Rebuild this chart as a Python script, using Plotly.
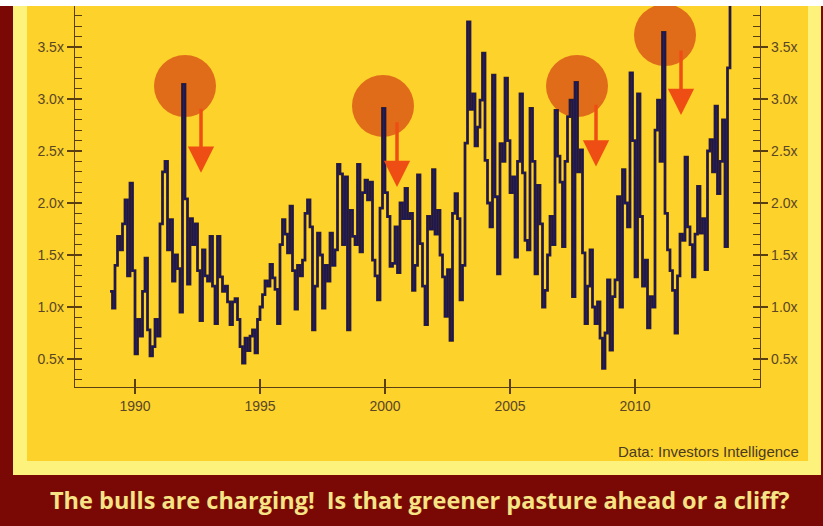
import plotly.graph_objects as go

# ---------------- data (bull/bear ratio, 0.1-year steps) -------------
start_year = 1989.0
year_step = 0.1

ratio_1989_1993 = [
    1.15, 0.99, 1.40, 1.68, 1.55, 1.80, 2.03, 1.30, 2.19, 1.35,
    0.55, 0.88, 0.72, 1.15, 1.47, 0.78, 0.53, 0.62, 0.88, 0.72,
    1.80, 2.30, 2.40, 1.55, 1.84, 1.25, 1.50, 1.37, 0.95, 3.14,
    2.04, 1.22, 1.85, 1.60, 1.80, 1.35, 0.87, 1.55, 1.30, 1.25,
    1.68, 1.20, 0.84, 1.68, 1.29, 1.15, 1.20, 1.05, 0.83, 1.05,
]
ratio_1994_1998 = [
    1.08, 0.88, 0.62, 0.46, 0.70, 0.58, 0.72, 0.78, 0.56, 0.88,
    1.00, 1.12, 1.25, 1.20, 1.41, 1.28, 1.17, 0.84, 1.60, 1.84,
    1.70, 1.52, 1.97, 1.35, 0.98, 1.40, 1.30, 1.45, 1.90, 2.03,
    1.77, 0.78, 1.20, 1.71, 1.50, 0.99, 1.40, 1.25, 1.71, 1.40,
    1.55, 2.37, 2.28, 1.60, 2.25, 0.78, 1.93, 1.68, 1.60, 2.37,
]
ratio_1999_2003 = [
    1.53, 2.10, 2.22, 2.03, 2.20, 1.45, 1.30, 1.07, 1.95, 2.91,
    2.10, 1.87, 1.39, 1.42, 1.77, 1.33, 2.00, 1.85, 2.14, 1.85,
    1.90, 1.16, 1.40, 2.27, 1.61, 1.20, 0.83, 1.87, 1.75, 2.32,
    1.70, 1.93, 1.50, 1.29, 0.91, 1.36, 0.68, 1.90, 2.09, 1.85,
    1.07, 1.40, 2.575, 3.74, 2.90, 3.05, 2.55, 2.73, 2.99, 3.44,
]
ratio_2004_2008 = [
    2.41, 2.00, 1.77, 3.23, 2.06, 1.32, 2.57, 2.40, 3.20, 2.60,
    2.10, 2.25, 1.48, 2.40, 3.05, 2.29, 1.64, 1.55, 2.91, 2.40,
    1.32, 2.17, 1.80, 1.00, 1.16, 1.50, 1.87, 1.60, 2.89, 2.45,
    2.20, 1.58, 2.40, 2.83, 2.99, 1.10, 3.16, 2.30, 2.51, 1.52,
    0.84, 1.20, 1.55, 1.00, 0.84, 1.05, 0.70, 0.41, 0.75, 1.26,
]
ratio_2009_2013 = [
    0.585, 1.10, 1.26, 2.06, 1.00, 2.32, 2.00, 1.77, 3.25, 2.60,
    1.29, 3.05, 1.87, 1.20, 1.45, 0.80, 1.10, 1.00, 2.70, 2.99,
    2.40, 3.64, 1.90, 1.55, 1.35, 1.16, 0.75, 1.30, 1.70, 1.64,
    2.44, 1.77, 1.60, 1.29, 1.70, 2.16, 1.71, 1.85, 1.36, 2.50,
    2.61, 2.30, 2.93, 2.09, 2.40, 2.80, 1.58, 3.30, 4.30,
]

x_tick_vals = [1990, 1995, 2000, 2005, 2010]
x_tick_text = ["1990", "1995", "2000", "2005", "2010"]
y_tick_vals = [0.5, 1.0, 1.5, 2.0, 2.5, 3.0, 3.5]
y_tick_text = ["0.5x", "1.0x", "1.5x", "2.0x", "2.5x", "3.0x", "3.5x"]

# highlighted peaks (circles) and the arrows next to them
peak_years = [1992.0, 1999.92, 2007.68, 2011.2]
peak_levels = [3.125, 2.933, 3.125, 3.615]
arrow_years = [1992.64, 2000.48, 2008.44, 2011.84]
arrow_from = [2.92, 2.79, 2.96, 3.48]
arrow_to = [2.29, 2.154, 2.35, 2.846]

caption = "The bulls are charging!\u00a0 Is that greener pasture ahead or a cliff?"
source_note = "Data: Investors Intelligence"

# ---------------- build ----------------
ratio = ratio_1989_1993 + ratio_1994_1998 + ratio_1999_2003 + ratio_2004_2008 + ratio_2009_2013
years = [start_year + year_step * i for i in range(len(ratio))]

W, H = 823, 526
L, R, T, B = 75, 760, 6, 387  # plot area in pixels


def fx(px):
    return (px - L) / (R - L)


def fy(py):
    return (B - py) / (B - T)


AX = "#5a3f12"
TICKFONT = dict(family="Liberation Sans, Arial, sans-serif", size=14, color="#5a4626")
Y_RANGE = [0.231, 3.894]
X_RANGE = [1987.6, 2015.0]

fig = go.Figure()

fig.add_trace(go.Scatter(
    x=peak_years, y=peak_levels, mode="markers",
    marker=dict(size=62, color="#e06c1a", line=dict(width=0)),
    hoverinfo="skip", showlegend=False,
))
fig.add_trace(go.Scatter(
    x=years, y=ratio, mode="lines", line_shape="hv",
    line=dict(color="#3a2420", width=2.8),
    hoverinfo="skip", showlegend=False,
))
fig.add_trace(go.Scatter(
    x=years, y=ratio, mode="lines", line_shape="hv",
    line=dict(color="#151565", width=1.3),
    showlegend=False,
))
# helper (empty) traces so the overlay axes are drawn
fig.add_trace(go.Scatter(x=[None], y=[None], xaxis="x", yaxis="y2", showlegend=False, hoverinfo="skip"))
fig.add_trace(go.Scatter(x=[None], y=[None], xaxis="x2", yaxis="y3", showlegend=False, hoverinfo="skip"))
fig.add_trace(go.Scatter(x=[None], y=[None], xaxis="x", yaxis="y4", showlegend=False, hoverinfo="skip"))

for xa, yf, yt in zip(arrow_years, arrow_from, arrow_to):
    fig.add_annotation(
        x=xa, y=yt, ax=xa, ay=yf, xref="x", yref="y", axref="x", ayref="y",
        text="", showarrow=True, arrowhead=2, arrowsize=1.5, arrowwidth=3.5,
        arrowcolor="#ee4e14", standoff=0,
    )

fig.add_annotation(
    x=fx(420), y=fy(500), xref="paper", yref="paper", xanchor="center", yanchor="middle",
    text="<b>" + caption + "</b>", showarrow=False,
    font=dict(family="Open Sans, Lato, sans-serif", size=23.5, color="#f6e385", weight=800),
)
fig.add_annotation(
    x=fx(801), y=fy(451), xref="paper", yref="paper", xanchor="right", yanchor="middle",
    text=source_note, showarrow=False,
    font=dict(family="Liberation Sans, Arial, sans-serif", size=15, color="#4a3a22"),
)

shapes = [
    dict(type="rect", xref="paper", yref="paper", x0=fx(0), x1=fx(W), y0=fy(6), y1=fy(0),
         fillcolor="#ffffff", line=dict(width=0), layer="below"),
    dict(type="rect", xref="paper", yref="paper", x0=fx(13), x1=fx(821), y0=fy(475), y1=fy(6),
         fillcolor="#fdf27c", line=dict(width=0), layer="below"),
    dict(type="rect", xref="paper", yref="paper", x0=fx(27), x1=fx(808), y0=fy(461), y1=fy(6),
         fillcolor="#fdd22b", line=dict(width=0), layer="below"),
]

common_y = dict(range=Y_RANGE, showgrid=False, zeroline=False, fixedrange=True,
                tickvals=y_tick_vals, tickcolor=AX, tickwidth=1.2)

fig.update_layout(
    width=W, height=H,
    margin=dict(l=L, r=W - R, t=T, b=H - B, pad=0),
    paper_bgcolor="#7a0906",
    plot_bgcolor="rgba(0,0,0,0)",
    shapes=shapes,
    showlegend=False,
    xaxis=dict(range=X_RANGE, showgrid=False, zeroline=False, showline=True, linecolor=AX, linewidth=1.3,
               ticks="outside", ticklen=6, tickwidth=1.2, tickcolor=AX,
               tickvals=x_tick_vals, ticktext=x_tick_text, tickfont=TICKFONT, anchor="y"),
    xaxis2=dict(range=X_RANGE, overlaying="x", side="bottom", anchor="y3", showgrid=False, zeroline=False,
                showline=False, ticks="inside", ticklen=8, tickwidth=1.2, tickcolor=AX,
                tickvals=x_tick_vals, showticklabels=False),
    yaxis=dict(**common_y, side="left", showline=True, linecolor=AX, linewidth=1.3,
               ticks="outside", ticklen=7, ticktext=y_tick_text, tickfont=TICKFONT,
               minor=dict(ticks="inside", dtick=0.1, ticklen=7, tickcolor=AX, tickwidth=1.2)),
    yaxis2=dict(**common_y, overlaying="y", side="right", anchor="x", showline=True, linecolor=AX, linewidth=1.3,
                ticks="outside", ticklen=7, ticktext=y_tick_text, tickfont=TICKFONT,
                minor=dict(ticks="inside", dtick=0.1, ticklen=7, tickcolor=AX, tickwidth=1.2)),
    yaxis3=dict(**common_y, overlaying="y", side="left", anchor="x2", showline=False,
                ticks="inside", ticklen=7, showticklabels=False),
    yaxis4=dict(**common_y, overlaying="y", side="right", anchor="x", showline=False,
                ticks="inside", ticklen=7, showticklabels=False),
)

fig.write_html(
    "out.html",
    config={"displayModeBar": False, "staticPlot": True},
    post_script="document.body.style.margin='0px';document.body.style.overflow='hidden';",
)
